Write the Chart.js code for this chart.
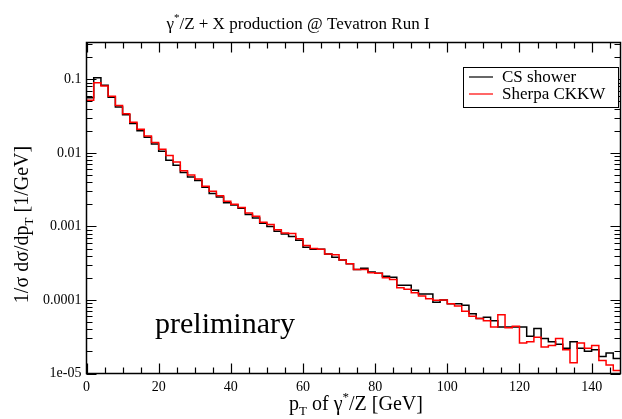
<!DOCTYPE html>
<html><head><meta charset="utf-8">
<script src="https://cdn.jsdelivr.net/npm/chart.js@4.4.1/dist/chart.umd.min.js"></script>
<style>html,body{margin:0;padding:0;background:#fff;}#wrap{width:622px;height:419px;position:relative;}</style>
</head><body><div id="wrap"><canvas id="c" width="622" height="419"></canvas></div>
<script>
// pT bins (lower edges, GeV), width 2 GeV
const ptBinLow = [0,2,4,6,8,10,12,14,16,18,20,22,24,26,28,30,32,34,36,38,40,42,44,46,48,50,52,54,56,58,60,62,64,66,68,70,72,74,76,78,80,82,84,86,88,90,92,94,96,98,100,102,104,106,108,110,112,114,116,118,120,122,124,126,128,130,132,134,136,138,140,142,144,146];
const binWidth = 2;
const csShower = [0.056,0.105,0.083,0.057,0.042,0.033,0.025,0.020,0.0163,0.0132,0.0105,0.0079,0.0068,0.0054,0.0047,0.0042,0.0034,0.0028,0.0025,0.0021,0.00195,0.00176,0.00145,0.0013,0.0011,0.001,0.00086,0.00079,0.00073,0.00065,0.00052,0.00049,0.00049,0.00042,0.00038,0.00035,0.00031,0.00026,0.00027,0.00024,0.00023,0.00021,0.000204,0.000158,0.000158,0.000135,0.00012,0.00012,0.000093,0.0001,0.000089,0.000089,0.000085,0.000065,0.000056,0.000058,0.000052,0.000043,0.000043,0.000043,0.000043,0.000032,0.000041,0.00003,0.000027,0.000025,0.000022,0.000027,0.000022,0.00002,0.000021,0.000017,0.000019,0.000016];
const sherpaCKKW = [0.052,0.090,0.081,0.059,0.044,0.034,0.026,0.021,0.017,0.0138,0.0112,0.0092,0.0075,0.0057,0.0050,0.0044,0.0035,0.0030,0.0026,0.0022,0.0020,0.0018,0.00152,0.00137,0.00114,0.00106,0.0009,0.00081,0.0008,0.00068,0.00055,0.0005,0.00049,0.00042,0.00041,0.00035,0.00031,0.00026,0.00026,0.000234,0.00023,0.0002,0.00019,0.000147,0.00014,0.000125,0.000113,0.000104,0.000099,0.0001,0.000089,0.000083,0.00007,0.00006,0.000056,0.000052,0.000043,0.000063,0.000042,0.000044,0.000026,0.000027,0.000031,0.000023,0.000024,0.00003,0.000021,0.000014,0.000026,0.000022,0.000024,0.000015,0.000013,0.000011];
const seriesNames = ['CS shower','Sherpa CKKW'];
const seriesColors = ['#000000','#ff0000'];
const xTickValues = [0,20,40,60,80,100,120,140];
const xTickLabels = ['0','20','40','60','80','100','120','140'];
const yTickValues = [1e-5,1e-4,1e-3,1e-2,1e-1];
const yTickLabels = ['1e-05','0.0001','0.001','0.01','0.1'];
const xMin = 0, xMax = 148, yMin = 1e-5, yMax = Math.pow(10,-0.5);

function toSteps(vals){
  const pts = ptBinLow.map((e,i)=>({x:e,y:vals[i]}));
  pts.push({x:ptBinLow[ptBinLow.length-1]+binWidth,y:vals[vals.length-1]});
  return pts;
}
const SERIF = '"Liberation Serif","Times New Roman",serif';

function drawRich(ctx, parts, x, y, align){
  // parts: [text, size, dy]
  let total = 0;
  parts.forEach(p=>{ctx.font = p[1]+'px '+SERIF; total += ctx.measureText(p[0]).width;});
  let cx = align==='center' ? x-total/2 : x;
  ctx.textAlign='left'; ctx.textBaseline='alphabetic';
  parts.forEach(p=>{ctx.font = p[1]+'px '+SERIF; ctx.fillText(p[0],cx,y+p[2]); cx += ctx.measureText(p[0]).width;});
}

const decor = {
  id:'decor',
  afterDraw(chart){
    const ctx = chart.ctx, a = chart.chartArea;
    const xs = chart.scales.x, ys = chart.scales.y;
    ctx.save();
    ctx.strokeStyle='#000'; ctx.lineWidth=1.5;
    ctx.strokeRect(a.left, a.top, a.right-a.left, a.bottom-a.top);
    ctx.lineWidth=1.2;
    ctx.beginPath();
    for(let v=xMin; v<xMax; v+=5){
      const px = Math.round(xs.getPixelForValue(v))+0.5;
      const len = (v%20===0)?10:6;
      ctx.moveTo(px,a.bottom); ctx.lineTo(px,a.bottom-len);
      ctx.moveTo(px,a.top); ctx.lineTo(px,a.top+len);
    }
    for(let d=-5; d<=-1; d++){
      for(let m=1; m<=9; m++){
        const v = m*Math.pow(10,d);
        if(v>yMax) break;
        const py = Math.round(ys.getPixelForValue(v))+0.5;
        const len = (m===1)?10:6;
        ctx.moveTo(a.left,py); ctx.lineTo(a.left+len,py);
        ctx.moveTo(a.right,py); ctx.lineTo(a.right-len,py);
      }
    }
    ctx.stroke();
    ctx.fillStyle='#000';
    // title
    drawRich(ctx,[['\u03b3',17,0],['*',11,-8],['/Z + X production @ Tevatron Run I',17,0]],298,29,'center');
    // x title
    drawRich(ctx,[['p',20,0],['T',13,5],[' of \u03b3',20,0],['*',13,-9],['/Z [GeV]',20,0]],356,410,'center');
    // y title
    ctx.save(); ctx.translate(28,224.5); ctx.rotate(-Math.PI/2);
    drawRich(ctx,[['1/\u03c3 d\u03c3/dp',20,0],['T',13,5],[' [1/GeV]',20,0]],0,0,'center');
    ctx.restore();
    // preliminary
    drawRich(ctx,[['preliminary',30,0]],155,333,'left');
    // legend
    ctx.fillStyle='#fff'; ctx.fillRect(463,67,156,40);
    ctx.strokeStyle='#000'; ctx.lineWidth=1; ctx.strokeRect(463.5,67.5,155,40);
    seriesNames.forEach((n,i)=>{
      const yy = 77+i*17;
      ctx.strokeStyle=seriesColors[i]; ctx.lineWidth=1.2;
      ctx.beginPath(); ctx.moveTo(469,yy); ctx.lineTo(493,yy); ctx.stroke();
      ctx.fillStyle='#000';
      drawRich(ctx,[[n,17,0]],502,yy+5,'left');
    });
    ctx.restore();
  }
};

new Chart(document.getElementById('c'),{
  type:'line',
  data:{datasets:[
    {label:seriesNames[0],data:toSteps(csShower),borderColor:seriesColors[0],borderWidth:1.5,stepped:'before',pointRadius:0,fill:false,order:1},
    {label:seriesNames[1],data:toSteps(sherpaCKKW),borderColor:seriesColors[1],borderWidth:1.5,stepped:'before',pointRadius:0,fill:false,order:0}
  ]},
  options:{
    responsive:false, animation:false,
    layout:{padding:{left:0,right:1.5,top:42.5,bottom:0}},
    plugins:{legend:{display:false},tooltip:{enabled:false},title:{display:false}},
    scales:{
      x:{type:'linear',min:xMin,max:xMax,
        grid:{display:false,drawTicks:false},border:{display:false},
        afterBuildTicks:s=>{s.ticks=xTickValues.map(v=>({value:v}));},
        afterFit:s=>{s.height=45.5;},
        ticks:{autoSkip:false,maxRotation:0,padding:5,color:'#000',font:{family:SERIF,size:14},callback:(v,i)=>xTickLabels[i]}},
      y:{type:'logarithmic',min:yMin,max:yMax,
        grid:{display:false,drawTicks:false},border:{display:false},
        afterBuildTicks:s=>{s.ticks=yTickValues.map(v=>({value:v}));},
        afterFit:s=>{s.width=86.5;},
        ticks:{autoSkip:false,padding:5,color:'#000',font:{family:SERIF,size:14},callback:(v,i)=>yTickLabels[i]}}
    }
  },
  plugins:[decor]
});
</script></body></html>
